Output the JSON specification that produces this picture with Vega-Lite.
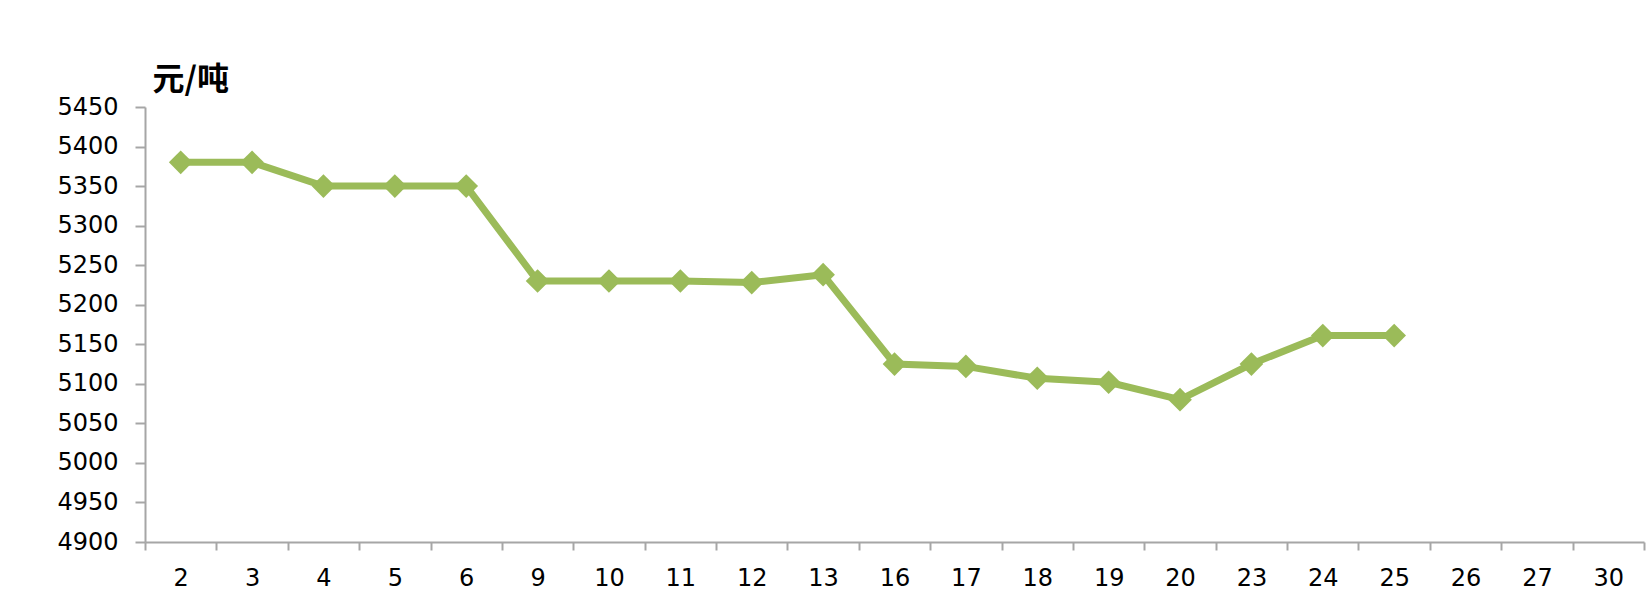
{
  "$schema": "https://vega.github.io/schema/vega-lite/v6.json",
  "width": 1499,
  "height": 435,
  "autosize": {"type": "none"},
  "padding": {"left": 145, "top": 107, "right": 5, "bottom": 57},
  "background": "white",
  "config": {"view": {"stroke": null}},
  "data": {"values": [
    {"day": "2", "price": 5380},
    {"day": "3", "price": 5380},
    {"day": "4", "price": 5350},
    {"day": "5", "price": 5350},
    {"day": "6", "price": 5350},
    {"day": "9", "price": 5230},
    {"day": "10", "price": 5230},
    {"day": "11", "price": 5230},
    {"day": "12", "price": 5228},
    {"day": "13", "price": 5238},
    {"day": "16", "price": 5125},
    {"day": "17", "price": 5122},
    {"day": "18", "price": 5107},
    {"day": "19", "price": 5102},
    {"day": "20", "price": 5080},
    {"day": "23", "price": 5125},
    {"day": "24", "price": 5161},
    {"day": "25", "price": 5161}
  ]},
  "encoding": {
    "x": {
      "field": "day", "type": "ordinal",
      "scale": {"type": "band", "paddingInner": 0, "paddingOuter": 0,
        "domain": ["2","3","4","5","6","9","10","11","12","13","16","17","18","19","20","23","24","25","26","27","30"]},
      "axis": {"title": null, "labelAngle": 0, "tickBand": "extent", "domainColor": "#A6A6A6", "domainWidth": 2,
        "tickColor": "#A6A6A6", "tickWidth": 2, "tickSize": 8, "labelFont": "DejaVu Sans", "labelFontSize": 24,
        "labelColor": "#000000", "labelPadding": 16, "grid": false}
    },
    "y": {
      "field": "price", "type": "quantitative",
      "scale": {"domain": [4900, 5450], "nice": false, "zero": false},
      "axis": {"title": "元/吨", "titleAngle": 0, "titleX": 7, "titleY": -11, "titleAlign": "left", "titleBaseline": "bottom",
        "titleFont": "Noto Sans CJK SC", "titleFontSize": 32, "titleFontWeight": "bold", "titleColor": "#000000",
        "format": "d",
        "values": [4900,4950,5000,5050,5100,5150,5200,5250,5300,5350,5400,5450],
        "domainColor": "#A6A6A6", "domainWidth": 2, "tickColor": "#A6A6A6", "tickWidth": 2, "tickSize": 10,
        "labelFont": "DejaVu Sans", "labelFontSize": 24, "labelColor": "#000000", "labelPadding": 17, "grid": false}
    }
  },
  "layer": [
    {"mark": {"type": "line", "color": "#9BBB59", "strokeWidth": 7}},
    {"mark": {"type": "point", "shape": "diamond", "filled": true, "size": 560, "color": "#9BBB59", "opacity": 1}}
  ]
}
